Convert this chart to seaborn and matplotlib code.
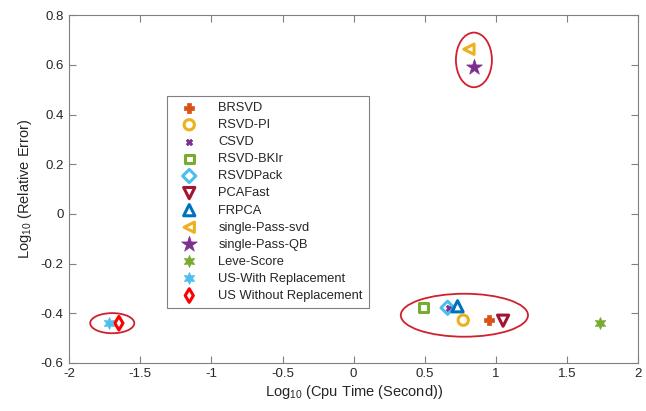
import numpy as np
import pandas as pd
import seaborn as sns
import matplotlib.pyplot as plt
from matplotlib.patches import Ellipse

# data (log10 cpu time, log10 relative error)
methods = ['BRSVD', 'RSVD-PI', 'CSVD', 'RSVD-BKIr', 'RSVDPack', 'PCAFast', 'FRPCA',
           'single-Pass-svd', 'single-Pass-QB', 'Leve-Score',
           'US-With Replacement', 'US Without Replacement']
log_time = [0.95, 0.77, 0.67, 0.49, 0.66, 1.05, 0.73, 0.81, 0.845, 1.73, -1.72, -1.65]
log_err = [-0.426, -0.428, -0.378, -0.378, -0.378, -0.43, -0.372, 0.663, 0.592, -0.44, -0.44, -0.44]

colors = ['#D95319', '#EDB120', '#7E2F8E', '#77AC30', '#4DBEEE', '#A2142F', '#0072BD',
          '#EDB120', '#7E2F8E', '#77AC30', '#4DBEEE', '#FF0000']
markers = ['P', 'o', 'X', 's', 'D', 'v', '^', '<', '*', (6, 1, 0), (6, 1, 0), 'd']
filled = [True, False, True, False, False, False, False, False, True, True, True, False]
sizes = [50, 55, 22, 40, 45, 65, 65, 55, 140, 75, 75, 48]

df = pd.DataFrame({'method': methods, 'x': log_time, 'y': log_err})

sns.set_style('white')
plt.rcParams['font.family'] = ['Liberation Sans', 'DejaVu Sans']
plt.rcParams['mathtext.default'] = 'regular'

fig = plt.figure(figsize=(6.46, 4.11), dpi=100)
ax = fig.add_axes([0.107, 0.117, 0.881, 0.846])

for i, m in enumerate(methods):
    sub = df[df['method'] == m]
    if filled[i]:
        sns.scatterplot(data=sub, x='x', y='y', marker=markers[i], s=sizes[i],
                        color=colors[i], edgecolor=colors[i], linewidth=0.5,
                        label=m, ax=ax, zorder=3)
    else:
        sns.scatterplot(data=sub, x='x', y='y', marker=markers[i], s=sizes[i],
                        facecolor='none', edgecolor=colors[i], linewidth=2.2,
                        label=m, ax=ax, zorder=3)

# ellipses around clusters
ell_color = '#D0202E'
for cx, cy, w, h in [(-1.697, -0.44, 0.31, 0.081),
                     (0.778, -0.408, 0.894, 0.173),
                     (0.845, 0.62, 0.253, 0.22)]:
    ax.add_patch(Ellipse((cx, cy), w, h, fill=False, edgecolor=ell_color, lw=1.3, zorder=2))

ax.set_xlim(-2, 2)
ax.set_ylim(-0.6, 0.8)
ax.set_xticks([-2, -1.5, -1, -0.5, 0, 0.5, 1, 1.5, 2])
ax.set_xticklabels(['-2', '-1.5', '-1', '-0.5', '0', '0.5', '1', '1.5', '2'])
ax.set_yticks([-0.6, -0.4, -0.2, 0, 0.2, 0.4, 0.6, 0.8])
ax.set_yticklabels(['-0.6', '-0.4', '-0.2', '0', '0.2', '0.4', '0.6', '0.8'])
ax.tick_params(direction='in', length=5, width=0.8, color='#808080',
               labelsize=9.5, labelcolor='#262626', top=True, right=True,
               bottom=True, left=True, pad=4)
for sp in ax.spines.values():
    sp.set_color('#808080')
    sp.set_linewidth(0.8)

ax.set_xlabel('Log$_{10}$ (Cpu Time (Second))', fontsize=10.5, color='#262626', labelpad=2)
ax.set_ylabel('Log$_{10}$ (Relative Error)', fontsize=10.5, color='#262626', labelpad=5)

leg = ax.legend(loc='upper left', bbox_to_anchor=(0.1725, 0.767), fontsize=9.3,
                frameon=True, fancybox=False, edgecolor='#808080', framealpha=1,
                labelspacing=0.39, handletextpad=1.0, borderpad=0.45, handlelength=2.5,
                borderaxespad=0)
leg.get_frame().set_linewidth(0.8)

fig.savefig('out.png', dpi=100)
